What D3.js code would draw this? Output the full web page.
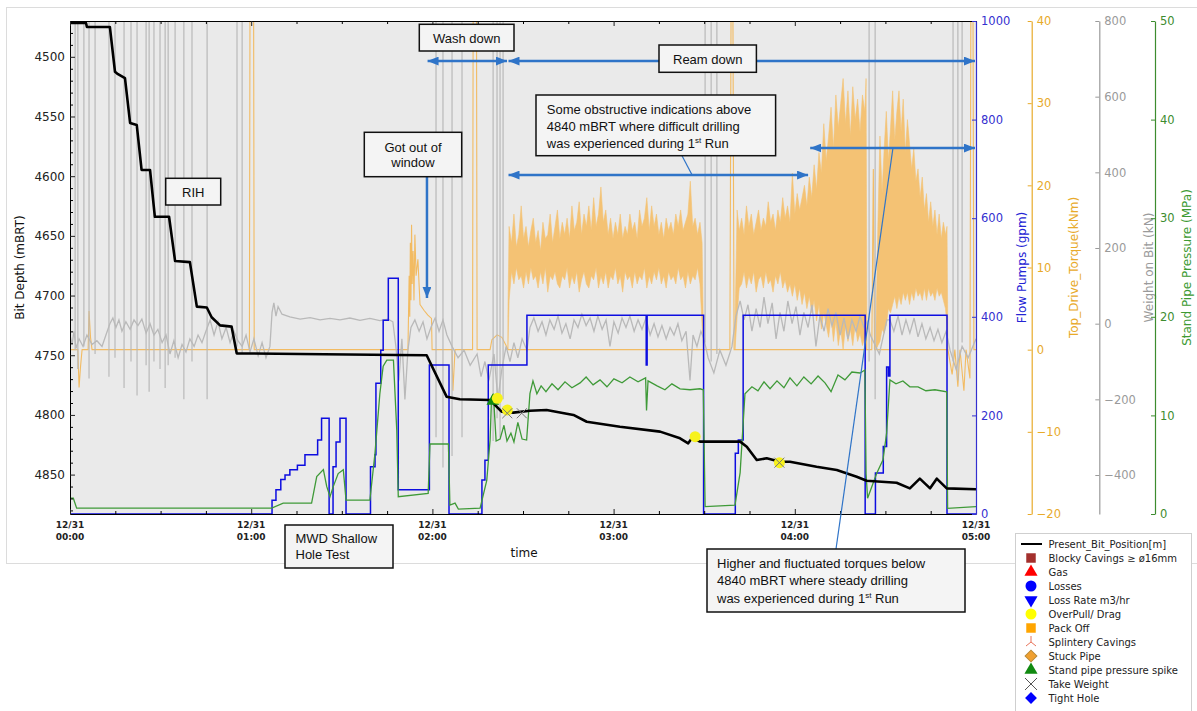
<!DOCTYPE html>
<html>
<head>
<meta charset="utf-8">
<script src="https://cdn.jsdelivr.net/npm/d3@7"></script>
<style>
  html, body { margin: 0; padding: 0; background: #fff; }
  svg { display: block; font-family: "DejaVu Sans", sans-serif; }
</style>
</head>
<body>
<svg id="chart" width="1197" height="711"></svg>
<script>
// ==========================================================================
// DATA (time in minutes after 12/31 00:00)
// ==========================================================================

// Present bit position [m]
const bitDepth = [
  [0,4471.7],[5.3,4471.7],[5.6,4475],[13.2,4475],[14.9,4512.5],[15.6,4514],[18.2,4517.8],
  [19.9,4555.4],[22.1,4557.1],[23.7,4594.8],[26.5,4594.8],[28.1,4634],[32.8,4634],
  [34.8,4671.1],[39.7,4672],[42,4709.3],[45.3,4710],[46.9,4718.2],[49.7,4725],[53.5,4726],
  [55.2,4748.4],[76.2,4749],[108.2,4749.8],[118.1,4750],[124.7,4784.7],[129.1,4786.9],
  [139.1,4787.5],[142.9,4797.3],[146.8,4798.1],[152.3,4796.5],[157.8,4795.9],[166.7,4800],
  [171.1,4805.7],[182.1,4809.9],[195.4,4814],[202,4819.6],[204.7,4823.8],[205.9,4819.6],
  [208.6,4822.4],[221.9,4822.4],[224.1,4826.6],[227.4,4837.8],[230.7,4836.3],[235.1,4839.2],
  [238.4,4839.2],[247.2,4843.4],[253.9,4846.1],[260.5,4851.8],[263.8,4855.1],[273.7,4856.8],
  [278.1,4861.5],[281.4,4853.4],[284.8,4861.5],[287,4853.4],[290.3,4861.5],[300,4862.3]
];

// Flow pumps [gpm]
const flowPumps = [
  [0,0],[66.8,0],[66.9,28],[68.2,49],[69.8,70],[71.2,79],[72.8,90],[75.3,99],[77.8,120],
  [82,150],[83.3,194],[84.2,194],[85.8,0],[87,0],[87.1,96],[88.1,146],[89.4,194],[91.1,194],
  [91.4,0],[99.3,0],[99.5,96],[101,120],[101.3,265],[102.9,332],[103.7,393],[105.4,478],
  [107.1,478],[108.7,49],[118.9,49],[119.0,302],[125.3,302],[125.5,0],[136.3,0],[136.4,69],
  [137.4,109],[138.5,302],[151.2,302],[151.3,403],[190.7,403],[190.8,302],[191.1,403],
  [209.7,403],[209.8,0],[220.2,0],[220.3,123],[221.3,150],[222.9,403],[263.2,403],[263.3,0],
  [266.6,0],[266.7,83],[269.3,137],[270.4,298],[271,280],[271.5,403],[290.3,403],[290.4,0],[300,0]
];

// Stand pipe pressure [MPa]
const standPipe = [
  [0,1.6],[1.1,1.6],[2.2,0.6],[66.8,0.6],[70.6,1.1],[80,1.1],[81.7,3.8],[83.9,4.5],[85,2.8],
  [86.1,1.75],[87.2,2.8],[88.8,4.1],[90.5,4.5],[91.4,1.4],[99.3,1.4],[101,6.2],[102.6,12.2],
  [103.7,15],[104.9,15.6],[107.1,15.6],[108.2,8.5],[108.7,1.75],[118.6,2.1],[119.2,7.1],
  [125.3,7.1],[125.8,0.9],[127.5,1.1],[128.6,0.5],[135.8,0.6],[138,3.4],[139.1,7.5],
  [139.6,11.9],[140.2,12.1],[141.1,7.4],[142.4,7.6],[143.7,9],[144.7,7.4],[146,8.2],[147,7.3],
  [148.3,9.3],[149.7,7.6],[151.2,7.5],[152.3,12.2],[153.3,13.5],[154.6,12.2],[156,13],
  [157.6,12.4],[159.6,13.2],[161.6,12.6],[163.9,13.4],[166.2,12.8],[168.9,13.3],[170.9,13.9],
  [173.2,13.1],[175.5,13.6],[177.8,12.9],[180.1,13.7],[182.8,13.3],[185.4,13.9],[188.1,13.4],
  [190.6,13.8],[190.9,10.5],[191.4,13.5],[194.4,13],[197,12.6],[199.3,13.2],[202,12.7],
  [205.3,12.6],[208.6,12.7],[209.7,12.6],[210.3,0.75],[220.2,0.9],[221.9,4.2],[223.5,12.2],
  [225.8,12.9],[227.8,12.5],[229.8,13.4],[231.8,12.7],[234.1,13.5],[236.4,12.8],[238.4,13.8],
  [240.7,13],[243,13.9],[245.4,13.2],[247.7,14],[250,13.3],[252,12.4],[254.3,14.1],[256.6,13.6],
  [258.9,14.4],[261.6,14.3],[263.2,14.6],[263.6,4.1],[264.1,1.6],[267.1,4.1],[269.2,5.5],
  [270.4,8.2],[271.5,13.6],[273.5,13.2],[275.8,13.5],[278.1,12.9],[280.8,12.9],[283.4,12.5],
  [286.4,12.6],[290.3,12.4],[290.6,0.58],[300,0.75]
];

// Top drive torque [kNm], quiet parts and single spikes
const torqueLine = [
  [0,0],[2.6,0],[3,-4.6],[3.5,-2],[4,0],[6,0],[6.3,4.7],[6.8,1.5],[7.3,0],
  [59.4,0],[59.6,42],[60.8,42],[61,0],
  [111.9,0],[112.3,9],[112.5,4],[112.7,13],[112.9,6],[113.1,15.2],[113.3,8],[113.6,12],
  [113.9,6],[114.2,14],[114.6,9],[115.2,11],[115.9,5.5],[117.2,4.8],[118.5,4.2],[119.7,3.8],[119.9,0],
  [126.5,0],[126.8,-5],[127.5,0],
  [133.3,0],[133.5,42],[134.6,42],[134.8,0],
  [139.1,0],[139.7,1.2],[141.4,1.8],[143,1.5],[144.4,0.5],[145,0],
  [209.8,0],[218.5,0],[218.9,42],[219.5,42],[219.9,0],[220.2,0],
  [263.9,0],[265.5,0],[266,22],[266.4,0],[266.9,0],
  [290.7,0],[292.1,-3],[293,0],[294,-4.5],[294.7,0],[296,-5],[296.7,0],[298,-3.5],
  [298.3,42],[299,42],[299.3,0],[300,0]
];

// Top drive torque [kNm], dense noisy stretches as [t, low, high]
const torqueBandA = [
  [145,0,4],[145.4,6,15],[146.2,9.5,13],[147,8,16.5],[147.8,10,12.5],[148.6,8.5,14],
  [149.4,9,17.5],[150.2,7.5,13.5],[151,9.5,15],[151.8,8,12.5],[152.6,10,14.5],[153.4,8.5,16],
  [154.2,9,13],[155,7.5,14.5],[155.8,9.5,12],[156.6,8,15.5],[157.4,10,13.5],[158.2,7,14],
  [159,9,16.5],[159.8,8.5,13],[160.6,9.5,15],[161.4,8,17],[162.2,7.5,13.5],[163,9,15.5],
  [163.8,8.5,14],[164.6,10,16],[165.4,7.5,13.5],[166.2,9,17.5],[167,8,14.5],[167.8,9.5,15.5],
  [168.6,7,18],[169.4,8.5,14],[170.2,9.5,16.5],[171,8,15],[171.8,7.5,17.5],[172.6,9,14.5],
  [173.4,8.5,18.5],[174.2,10,15],[175,7.5,16.5],[175.8,9,19.8],[176.6,8,15.5],[177.4,9.5,17],
  [178.2,7.5,14],[179,9,16],[179.8,8.5,13.5],[180.6,10,15.5],[181.4,8,14],[182.2,9,16.5],
  [183,7,13.5],[183.8,9.5,15],[184.6,8.5,14],[185.4,9,16.5],[186.2,7.5,14.5],[187,9.5,15.5],
  [187.8,8,13.5],[188.6,9,17],[189.4,8.5,15],[190.2,10,16],[191,7.5,18.5],[191.8,9,14.5],
  [192.6,8,17.5],[193.4,9.5,15],[194.2,8.5,16.5],[195,10,14],[195.8,8,15.5],[196.6,9,13.5],
  [197.4,7.5,16],[198.2,9.5,14.5],[199,8.5,15.5],[199.8,9,14],[200.6,8,16.5],[201.4,10,15],
  [202.2,8.5,17],[203,9,14.5],[203.8,7.5,15.5],[204.6,9.5,16.5],[205.4,8,20.5],[206.2,9,15],
  [207,8.5,16],[207.8,10,14],[208.6,8,15.5],[209.3,3,13],[209.8,0,0]
];
const torqueBandB = [
  [220.2,0,3],[220.9,4,17],[221.6,7.5,14.5],[222.4,8,16],[223.2,9.5,14],[224,7.5,17.5],
  [224.8,9,15],[225.6,8,16.5],[226.4,9.5,14],[227.2,7,15.5],[228,8.5,17],[228.8,9,14.5],
  [229.6,7.5,16],[230.4,9.5,15],[231.2,8,18],[232,8.5,15.5],[232.8,7,16.5],[233.6,9,14.5],
  [234.4,8,17],[235.2,9.5,15.5],[236,7.5,18.5],[236.8,8.5,16],[237.6,7,17.5],[238.4,8,15.5],
  [239.2,6.5,21.5],[240,8,16.5],[240.8,6,19],[241.6,7.5,17],[242.4,5.5,18.5],[243.2,7,20],
  [244,5,17.5],[244.8,6.5,21],[245.6,4.5,18.5],[246.4,6,22.5],[247.2,3.5,19.5],[248,5.5,24],
  [248.8,2.5,21.5],[249.6,4.5,27.5],[250.4,3,23],[251.2,1.5,26],[252,4,29.5],[252.8,1,24.5],
  [253.6,3.5,31],[254.4,0.5,27],[255.2,2.5,30],[256,0,33],[256.8,3,27.5],[257.6,1,31.5],
  [258.4,2.5,26],[259.2,0.5,32],[260,3,28],[260.8,1,30.5],[261.6,2,26.5],[262.4,0.5,31],
  [263.2,1.5,29],[263.6,0,33],[263.9,0,0]
];
const torqueBandC = [
  [266.9,0,3],[267.5,0.5,15],[268.2,1,26],[268.9,2.5,19],[269.6,2,24.5],[270.3,3,29],
  [271,5,23],[271.7,4.5,27],[272.4,5.5,31.5],[273.1,6.5,25.5],[273.8,5,29],[274.5,6.5,31.5],
  [275.2,5.5,26.5],[275.9,7,30.5],[276.6,6,24],[277.3,7,28],[278,5.5,25],[278.7,7,22],
  [279.4,6,24.5],[280.1,7.5,20.5],[280.8,6.5,22],[281.5,7,18.5],[282.2,6,21],[282.9,7.5,17],
  [283.6,6,19],[284.3,7.5,15.5],[285,6.5,18],[285.7,7,15],[286.4,6,17],[287.1,7.5,14],
  [287.8,6.5,16.5],[288.5,7,13.5],[289.2,6,15.5],[289.9,5,14],[290.4,3,15],[290.7,0,0]
];

// Weight on bit [kN]
const wobLine = [
  [0,-30],[0.7,-55],[1.3,-20],[2,-65],[3,-40],[4.3,-60],[5.6,-30],[7.3,-55],[8.9,-45],[10.6,-60],
  [11.9,-30],[13.2,0],[14.2,15],[15.2,-10],[16.2,10],[17.2,-20],[18.5,5],[19.9,-15],[21.2,10],
  [22.5,-5],[23.8,12],[25.2,-25],[26.5,0],[27.8,-30],[29.1,-15],[30.5,-50],[31.8,-30],[33.1,-80],
  [34.4,-45],[35.8,-90],[37.1,-55],[38.4,-75],[39.7,-40],[41.1,-60],[42.4,-30],[43.7,-50],[45,-20],
  [46.4,10],[47.7,-30],[49,5],[50.3,-40],[51.7,-10],[53,-50],[54.3,-20],[55.6,-45],[57,-60],
  [58.3,-30],[59.6,-75],[60.9,-40],[62.3,-85],[63.6,-50],[64.9,-90],[66.2,-60],[66.9,30],[67.5,55],
  [68.2,20],[68.9,45],[70.2,25],[72.8,18],[76.2,12],[79.5,16],[82.8,10],[86.1,14],[89.4,10],
  [92.7,15],[96,9],[99.3,14],[102.6,8],[105.3,12],[106.9,5],[107.9,-60],[108.9,-150],[109.9,-40],
  [110.9,-200],[111.9,-70],[112.9,-10],[114.2,10],[115.6,-20],[116.9,5],[118.2,-40],[119.5,-10],
  [120.9,15],[122.2,-20],[123.5,10],[124.8,-30],[126.5,-60],[128.5,-90],[130.5,-70],[132.5,-110],
  [134.8,-80],[136.1,-140],[137.4,-100],[138.7,-150],[140.4,-80],[141.7,-200],[143,-120],
  [144.4,-60],[145.7,-100],[147,-50],[148.3,-90],[149.7,-40],[151.3,-70],[152.3,-10],[153.6,15],
  [155,-20],[156.3,5],[157.6,-30],[158.9,10],[160.3,-15],[161.6,20],[162.9,-25],[164.2,0],
  [165.6,-40],[166.9,10],[168.2,-10],[169.5,25],[170.9,-5],[172.2,15],[173.5,-20],[174.8,20],
  [176.2,-15],[177.5,10],[178.8,-60],[180.1,5],[181.5,-25],[182.8,15],[184.1,-10],[185.4,20],
  [186.8,-20],[188.1,10],[189.4,-15],[190.7,15],[192.1,-30],[193.4,0],[194.7,-35],[196,-5],
  [197.4,-40],[198.7,-10],[200,-30],[201.3,0],[202.6,-45],[204,-20],[205.3,-150],[206.3,-30],
  [207.6,-60],[208.9,-20],[209.9,-40],[211.3,-90],[213.2,-130],[215.2,-70],[217.2,-110],
  [219.2,-60],[220.5,20],[221.9,60],[223.2,10],[224.5,50],[225.8,-20],[227.2,40],[228.5,-10],
  [229.8,70],[231.1,0],[232.5,55],[233.8,-40],[235.1,30],[236.4,-20],[237.7,60],[239.1,0],
  [240.4,45],[241.7,-30],[243,30],[244.4,-10],[245.7,50],[247,-60],[248.3,20],[249.7,-20],
  [251,40],[252.3,-5],[253.6,30],[255,-30],[256.3,15],[257.6,-40],[258.9,10],[260.3,-20],
  [261.6,20],[262.9,-10],[263.9,5],[265,-30],[268,-80],[270.5,10],[271.5,10],[272.8,-20],
  [274.2,20],[275.5,-30],[276.8,10],[278.1,-25],[279.5,15],[280.8,-35],[282.1,0],[283.4,-40],
  [284.8,-10],[286.1,-45],[287.4,-15],[288.7,-50],[290.1,-20],[291.4,-70],[293.4,-120],
  [295.4,-60],[297.4,-90],[300,-40]
];

// Weight on bit connection spikes: [t, lowest kN] (upper end off scale)
const wobSpikes = [
  [1.7,-70],[2.6,-120],[4.6,-60],[6.3,-145],[8.3,-80],[12.9,-140],[14.9,-90],[17.9,-170],
  [20.2,-100],[22.2,-190],[25.2,-110],[26.2,-180],[27.8,-100],[29.8,-120],[31.5,-170],
  [32.5,-110],[34.8,-90],[37.7,-200],[40.4,-100],[45.4,-200],[55.3,-60],[57,-80],
  [121.2,-300],[123.5,-380],[126.5,-350],[129.8,-300],[140.1,-310],[141.4,-250],[142.4,-300],
  [143.4,-200],[210.3,-50],[212.3,-100],[214.2,-80],[264.6,-100],[266.6,-200],[292.4,-100],
  [294,-150],[295.4,-50]
];

// Drilling events on the bit position
const events = [
  { t: 140.0, depth: 4788.3, type: 'spp' },
  { t: 141.5, depth: 4786.1, type: 'overpull' },
  { t: 144.8, depth: 4795.9, type: 'overpull' },
  { t: 144.8, depth: 4798.6, type: 'takeweight' },
  { t: 149.6, depth: 4798.6, type: 'takeweight' },
  { t: 207.0, depth: 4818.2, type: 'overpull' },
  { t: 234.9, depth: 4840.0, type: 'overpull' },
  { t: 234.9, depth: 4840.0, type: 'takeweight' }
];

// Ticks
const timeTickHours = [0, 1, 2, 3, 4, 5];
const depthTicks = [4500, 4550, 4600, 4650, 4700, 4750, 4800, 4850];
const flowTicks = [0, 200, 400, 600, 800, 1000];
const torqueTicks = [-20, -10, 0, 10, 20, 30, 40];
const wobTicks = [-400, -200, 0, 200, 400, 600, 800];
const sppTicks = [0, 10, 20, 30, 40, 50];

const legendLabels = [
  'Present_Bit_Position[m]', 'Blocky Cavings \u2265 \u00f816mm', 'Gas', 'Losses',
  'Loss Rate m3/hr', 'OverPull/ Drag', 'Pack Off', 'Splintery Cavings', 'Stuck Pipe',
  'Stand pipe pressure spike', 'Take Weight', 'Tight Hole'
];

// ==========================================================================
// SETUP
// ==========================================================================

const T0 = new Date(2019, 11, 31, 0, 0);
const at = m => new Date(T0.getTime() + m * 60000);

const PLOT = { left: 70, right: 976, top: 21, bottom: 514 };
const ANNO_BLUE = '#2f74c8';
const NOTE_FONT = '"Liberation Sans", Arial, sans-serif';

const svg = d3.select('#chart');

const x = d3.scaleTime().domain([at(0), at(300)]).range([PLOT.left, PLOT.right]);
const yDepth = d3.scaleLinear().domain([4470, 4883]).range([PLOT.top, PLOT.bottom]);
const yFlow = d3.scaleLinear().domain([0, 1000]).range([PLOT.bottom, PLOT.top]);
const yTorque = d3.scaleLinear().domain([-20, 40]).range([PLOT.bottom, PLOT.top]);
const yWob = d3.scaleLinear().domain([-503, 800]).range([PLOT.bottom, PLOT.top]);
const ySpp = d3.scaleLinear().domain([0, 50]).range([PLOT.bottom, PLOT.top]);

const xt = d => x(at(d[0]));

// figure frame
svg.append('rect')
  .attr('x', 6.5).attr('y', 7.5).attr('width', 1200).attr('height', 556)
  .attr('fill', '#fff').attr('stroke', '#dcdcdc');

const defs = svg.append('defs');
defs.append('clipPath').attr('id', 'plot-clip')
  .append('rect')
  .attr('x', PLOT.left).attr('y', PLOT.top)
  .attr('width', PLOT.right - PLOT.left).attr('height', PLOT.bottom - PLOT.top);

defs.append('marker')
  .attr('id', 'ah')
  .attr('viewBox', '0 0 10 8')
  .attr('refX', 10).attr('refY', 4)
  .attr('markerWidth', 11).attr('markerHeight', 9)
  .attr('markerUnits', 'userSpaceOnUse')
  .attr('orient', 'auto-start-reverse')
  .append('path').attr('d', 'M0,0 L10,4 L0,8 Z').attr('fill', ANNO_BLUE);

svg.append('rect')
  .attr('x', PLOT.left).attr('y', PLOT.top)
  .attr('width', PLOT.right - PLOT.left).attr('height', PLOT.bottom - PLOT.top)
  .attr('fill', '#eaeaea');

// ==========================================================================
// SERIES
// ==========================================================================

function drawSeries() {
  const g = svg.append('g').attr('clip-path', 'url(#plot-clip)');

  // torque
  const band = d3.area().x(xt).y0(d => yTorque(d[1])).y1(d => yTorque(d[2]));
  [torqueBandA, torqueBandB, torqueBandC].forEach(b => {
    g.append('path').attr('d', band(b))
      .attr('fill', '#f4c274').attr('stroke', '#f4c274').attr('stroke-width', 0.6);
  });
  g.append('path')
    .attr('d', d3.line().x(xt).y(d => yTorque(d[1]))(torqueLine))
    .attr('fill', 'none').attr('stroke', '#f2bb62').attr('stroke-width', 1.1);

  // weight on bit
  g.selectAll('line.wob-spike')
    .data(wobSpikes)
    .join('line')
    .attr('class', 'wob-spike')
    .attr('x1', xt).attr('x2', xt)
    .attr('y1', yWob(850)).attr('y2', d => yWob(d[1]))
    .attr('stroke', '#b9b9b9').attr('stroke-width', 1.2);
  g.append('path')
    .attr('d', d3.line().x(xt).y(d => yWob(d[1]))(wobLine))
    .attr('fill', 'none').attr('stroke', '#b9b9b9').attr('stroke-width', 1.3);

  // flow pumps
  g.append('path')
    .attr('d', d3.line().x(xt).y(d => yFlow(d[1])).curve(d3.curveStepAfter)(flowPumps))
    .attr('fill', 'none').attr('stroke', '#0d0de0').attr('stroke-width', 1.5);

  // stand pipe pressure
  g.append('path')
    .attr('d', d3.line().x(xt).y(d => ySpp(d[1]))(standPipe))
    .attr('fill', 'none').attr('stroke', '#3f9a38').attr('stroke-width', 1.3);

  // bit position
  g.append('path')
    .attr('d', d3.line().x(xt).y(d => yDepth(d[1]))(bitDepth))
    .attr('fill', 'none').attr('stroke', '#000').attr('stroke-width', 2.6)
    .attr('stroke-linejoin', 'round');

  // events
  const ev = g.selectAll('g.event').data(events).join('g')
    .attr('class', 'event')
    .attr('transform', d => `translate(${x(at(d.t))},${yDepth(d.depth)})`);
  ev.filter(d => d.type === 'spp').append('path')
    .attr('d', d3.symbol(d3.symbolTriangle, 70)()).attr('fill', '#118a11');
  ev.filter(d => d.type === 'overpull').append('circle')
    .attr('r', 5.5).attr('fill', '#f7f21c');
  ev.filter(d => d.type === 'takeweight').append('path')
    .attr('d', 'M-5,-5L5,5M-5,5L5,-5').attr('stroke', '#777').attr('stroke-width', 1);
}

// ==========================================================================
// AXES
// ==========================================================================

function styleTicks(sel, color, size) {
  sel.selectAll('.tick line').attr('stroke', color);
  sel.selectAll('.tick text')
    .attr('fill', color).attr('font-size', size)
    .attr('font-family', '"DejaVu Sans", sans-serif');
}

function drawAxes() {
  // left: bit depth
  const gl = svg.append('g').attr('transform', `translate(${PLOT.left},0)`);
  gl.call(d3.axisLeft(yDepth).tickValues(depthTicks).tickSize(-5).tickSizeOuter(0)
    .tickPadding(5).tickFormat(d3.format('d')));
  gl.select('.domain').attr('stroke', '#000');
  styleTicks(gl, '#222', 12);
  gl.append('g')
    .call(d3.axisLeft(yDepth).tickValues(d3.range(4480, 4881, 10).filter(v => v % 50))
      .tickSize(-3).tickSizeOuter(0).tickFormat(''))
    .select('.domain').remove();

  svg.append('text')
    .attr('transform', `translate(23.5,${(PLOT.top + PLOT.bottom) / 2}) rotate(-90)`)
    .attr('text-anchor', 'middle').attr('font-size', 12).attr('fill', '#111')
    .text('Bit Depth (mBRT)');

  // time: bottom and top
  const hours = timeTickHours.map(h => at(h * 60));
  const quarters = d3.range(0, 301, 15).filter(m => m % 60).map(at);
  [[PLOT.bottom, d3.axisBottom], [PLOT.top, d3.axisTop]].forEach(([yPos, axisFn]) => {
    const ga = svg.append('g').attr('transform', `translate(0,${yPos})`);
    ga.call(axisFn(x).tickValues(hours).tickSize(-5).tickSizeOuter(0).tickFormat(''));
    ga.select('.domain').attr('stroke', '#000');
    ga.selectAll('.tick line').attr('stroke', '#222');
    ga.append('g').call(axisFn(x).tickValues(quarters).tickSize(-3).tickSizeOuter(0).tickFormat(''))
      .select('.domain').remove();
  });
  const fmtDay = d3.timeFormat('%m/%d');
  const fmtHour = d3.timeFormat('%H:%M');
  const lbl = svg.append('g').selectAll('text').data(hours).join('text')
    .attr('text-anchor', 'middle').attr('font-size', 9).attr('font-weight', 'bold')
    .attr('fill', '#222');
  lbl.append('tspan').attr('x', d => x(d)).attr('y', 527.5).text(fmtDay);
  lbl.append('tspan').attr('x', d => x(d)).attr('y', 539.5).text(fmtHour);

  svg.append('text')
    .attr('x', 524).attr('y', 557).attr('text-anchor', 'middle')
    .attr('font-size', 12).attr('fill', '#111').text('time');

  // right axes
  drawRightAxis(yFlow, flowTicks, PLOT.right, '#3430cf', '#2424d4', 'Flow Pumps (gpm)', 1026);
  drawRightAxis(yTorque, torqueTicks, 1031.7, '#e8aa2a', '#e8aa2a', 'Top_Drive_Torque(kNm)', 1077.5);
  drawRightAxis(yWob, wobTicks, 1099.3, '#9a9a9a', '#9a9a9a', 'Weight on Bit (kN)', 1152.5);
  drawRightAxis(ySpp, sppTicks, 1155, '#3d8c2f', '#3d9a32', 'Stand Pipe Pressure (MPa)', 1191);
}

/**
 * One coloured twin axis on the right with its rotated label
 */
function drawRightAxis(scale, ticks, xPos, color, labelColor, label, labelX) {
  const ga = svg.append('g').attr('transform', `translate(${xPos},0)`);
  ga.call(d3.axisRight(scale).tickValues(ticks).tickSize(-4).tickSizeOuter(0)
    .tickPadding(5).tickFormat(d3.format('d')));
  ga.select('.domain').attr('stroke', color).attr('stroke-width', 1.2);
  styleTicks(ga, color, 11.5);

  svg.append('text')
    .attr('transform', `translate(${labelX},${(PLOT.top + PLOT.bottom) / 2}) rotate(-90)`)
    .attr('text-anchor', 'middle').attr('font-size', 12).attr('fill', labelColor)
    .text(label);
}

// ==========================================================================
// ANNOTATIONS
// ==========================================================================

function noteBox(x0, y0, w, h) {
  svg.append('rect')
    .attr('x', x0).attr('y', y0).attr('width', w).attr('height', h)
    .attr('fill', '#f4f4f4').attr('stroke', '#111').attr('stroke-width', 1.5);
}

function noteText(xPos, yPos, str, anchor) {
  return svg.append('text')
    .attr('x', xPos).attr('y', yPos).attr('text-anchor', anchor || 'start')
    .attr('font-family', NOTE_FONT).attr('font-size', 13).attr('fill', '#111')
    .text(str);
}

function arrow(x1, y1, x2, y2, both, width) {
  const l = svg.append('line')
    .attr('x1', x1).attr('y1', y1).attr('x2', x2).attr('y2', y2)
    .attr('stroke', ANNO_BLUE).attr('stroke-width', width || 2.5)
    .attr('marker-end', 'url(#ah)');
  if (both) l.attr('marker-start', 'url(#ah)');
}

function firstRun(textSel, before) {
  textSel.text(null);
  textSel.append('tspan').text(before);
  textSel.append('tspan').attr('dy', -5).attr('font-size', 8).text('st');
  textSel.append('tspan').attr('dy', 5).text(' Run');
}

function drawAnnotations() {
  // RIH
  noteBox(165.7, 178.3, 55, 26.7);
  noteText(193.2, 196.5, 'RIH', 'middle');

  // Got out of window
  arrow(x(at(118.2)), 176.7, x(at(118.2)), 298);
  noteBox(364.3, 132.3, 97.4, 44.4);
  noteText(413, 151.5, 'Got out of', 'middle');
  noteText(413, 167, 'window', 'middle');

  // Wash down / Ream down
  arrow(x(at(118.4)), 61, x(at(144.7)), 61, true);
  arrow(x(at(145.2)), 61, x(at(300)) - 1, 61, true);
  noteBox(419.3, 24.3, 94.7, 26.7);
  noteText(466.7, 43, 'Wash down', 'middle');
  noteBox(659, 45, 97.4, 27.3);
  noteText(707.7, 63.5, 'Ream down', 'middle');

  // obstructive indications
  arrow(x(at(145.2)), 175, x(at(244.4)), 175, true);
  svg.append('line')
    .attr('x1', 682).attr('y1', 155.7).attr('x2', x(at(206))).attr('y2', 175)
    .attr('stroke', ANNO_BLUE).attr('stroke-width', 1.2);
  noteBox(536, 95, 239.6, 60.7);
  noteText(546.8, 113.5, 'Some obstructive indications above');
  noteText(546.8, 130.5, '4840 mBRT where difficult drilling');
  firstRun(noteText(546.8, 147.5, ''), 'was experienced during 1');

  // higher torques
  arrow(x(at(245.1)), 148, x(at(300)) - 1, 148, true);
  svg.append('line')
    .attr('x1', 836).attr('y1', 549).attr('x2', x(at(272.5))).attr('y2', 148)
    .attr('stroke', ANNO_BLUE).attr('stroke-width', 1.2);
  noteBox(707, 549, 258, 63);
  noteText(717, 568, 'Higher and fluctuated torques below');
  noteText(717, 585, '4840 mBRT where steady drilling');
  firstRun(noteText(717, 602.5, ''), 'was experienced during 1');

  // MWD shallow hole test
  noteBox(285, 525, 108, 43);
  noteText(295.5, 543, 'MWD Shallow');
  noteText(295.5, 559, 'Hole Test');
}

// ==========================================================================
// LEGEND
// ==========================================================================

function drawLegend() {
  const lg = svg.append('g');
  lg.append('rect')
    .attr('x', 1015.5).attr('y', 533.5).attr('width', 176).attr('height', 190)
    .attr('fill', '#fff').attr('stroke', '#cfcfcf');

  const mx = 1031;
  const sym = (type, size) => d3.symbol(type, size)();
  const draw = [
    g => g.append('line').attr('x1', -10).attr('x2', 11).attr('stroke', '#000').attr('stroke-width', 2),
    g => g.append('path').attr('d', sym(d3.symbolSquare, 90)).attr('fill', '#a3302d'),
    g => g.append('path').attr('d', sym(d3.symbolTriangle, 75)).attr('fill', '#ff0000'),
    g => g.append('circle').attr('r', 5.5).attr('fill', '#0000ff'),
    g => g.append('path').attr('d', sym(d3.symbolTriangle, 75)).attr('transform', 'rotate(180)').attr('fill', '#0000ff'),
    g => g.append('circle').attr('r', 5.5).attr('fill', '#ffff00'),
    g => g.append('path').attr('d', sym(d3.symbolSquare, 90)).attr('fill', '#ffa500'),
    g => g.append('path').attr('d', 'M0,0V-6M0,0L-5,4M0,0L5,4').attr('stroke', '#e8735a').attr('fill', 'none').attr('stroke-width', 1),
    g => g.append('path').attr('d', sym(d3.symbolSquare, 70)).attr('transform', 'rotate(45)').attr('fill', '#f0a030').attr('stroke', '#b88a3a'),
    g => g.append('path').attr('d', sym(d3.symbolTriangle, 75)).attr('fill', '#118a11'),
    g => g.append('path').attr('d', 'M-6,-6L6,6M-6,6L6,-6').attr('stroke', '#555').attr('stroke-width', 1),
    g => g.append('path').attr('d', sym(d3.symbolSquare, 70)).attr('transform', 'rotate(45)').attr('fill', '#0000ff')
  ];

  legendLabels.forEach((label, i) => {
    const yPos = 544 + i * 14;
    const row = lg.append('g').attr('transform', `translate(${mx},${yPos})`);
    draw[i](row);
    lg.append('text')
      .attr('x', 1048.5).attr('y', yPos + 3.6)
      .attr('font-size', 10).attr('fill', '#222')
      .text(label);
  });
}

// ==========================================================================
// INIT
// ==========================================================================

drawSeries();
drawAxes();
drawAnnotations();
drawLegend();
console.log('Drilling chart drawn');
</script>
</body>
</html>
